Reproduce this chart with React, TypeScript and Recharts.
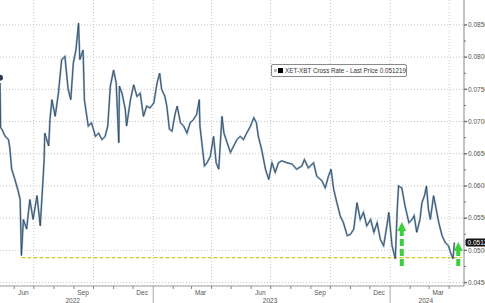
import {
  LineChart,
  Line,
  XAxis,
  YAxis,
  CartesianGrid,
  ReferenceLine,
  ReferenceDot,
} from 'recharts'

const dates = [
  '2022-05-10', '2022-05-11', '2022-05-13', '2022-05-18', '2022-05-23', '2022-05-25', '2022-05-28',
  '2022-06-02', '2022-06-07', '2022-06-10', '2022-06-12', '2022-06-13', '2022-06-15', '2022-06-20',
  '2022-06-25', '2022-06-30', '2022-07-06', '2022-07-11', '2022-07-15', '2022-07-17', '2022-07-18',
  '2022-07-24', '2022-07-26', '2022-07-29', '2022-08-03', '2022-08-08', '2022-08-13', '2022-08-18',
  '2022-08-23', '2022-08-27', '2022-08-31', '2022-09-04', '2022-09-08', '2022-09-10', '2022-09-15',
  '2022-09-17', '2022-09-20', '2022-09-23', '2022-09-28', '2022-10-04', '2022-10-09', '2022-10-14',
  '2022-10-19', '2022-10-23', '2022-10-27', '2022-11-01', '2022-11-05', '2022-11-09', '2022-11-10',
  '2022-11-14', '2022-11-19', '2022-11-21', '2022-11-27', '2022-12-02', '2022-12-07', '2022-12-12',
  '2022-12-17', '2022-12-22', '2022-12-27', '2023-01-02', '2023-01-07', '2023-01-11', '2023-01-14',
  '2023-01-19', '2023-01-22', '2023-01-26', '2023-01-30', '2023-02-04', '2023-02-07', '2023-02-12',
  '2023-02-17', '2023-02-22', '2023-02-27', '2023-03-04', '2023-03-09', '2023-03-13', '2023-03-14',
  '2023-03-17', '2023-03-21', '2023-03-25', '2023-03-30', '2023-04-04', '2023-04-08', '2023-04-12',
  '2023-04-17', '2023-04-20', '2023-04-25', '2023-04-30', '2023-05-05', '2023-05-10', '2023-05-15',
  '2023-05-20', '2023-05-25', '2023-05-31', '2023-06-05', '2023-06-09', '2023-06-12', '2023-06-17',
  '2023-06-23', '2023-06-28', '2023-07-03', '2023-07-08', '2023-07-13', '2023-07-18', '2023-07-26',
  '2023-08-03', '2023-08-10', '2023-08-18', '2023-08-22', '2023-08-28', '2023-09-05', '2023-09-10',
  '2023-09-18', '2023-09-23', '2023-09-28', '2023-10-02', '2023-10-06', '2023-10-11', '2023-10-16',
  '2023-10-21', '2023-10-27', '2023-11-01', '2023-11-06', '2023-11-11', '2023-11-16', '2023-11-21',
  '2023-11-26', '2023-12-02', '2023-12-07', '2023-12-12', '2023-12-17', '2023-12-22', '2023-12-27',
  '2023-12-30', '2024-01-04', '2024-01-09', '2024-01-12', '2024-01-14', '2024-01-19', '2024-01-24',
  '2024-01-30', '2024-02-04', '2024-02-07', '2024-02-11', '2024-02-16', '2024-02-19', '2024-02-23',
  '2024-02-26', '2024-02-29', '2024-03-03', '2024-03-08', '2024-03-12', '2024-03-16', '2024-03-21',
  '2024-03-26', '2024-03-31', '2024-04-03', '2024-04-07', '2024-04-09',
]

const rates = [
  0.0768, 0.0690, 0.0688, 0.0677, 0.0672, 0.0660, 0.0626,
  0.0610, 0.0592, 0.0579, 0.0492, 0.0510, 0.0548, 0.0533,
  0.0579, 0.0548, 0.0585, 0.0538, 0.0605, 0.0641, 0.0682,
  0.0662, 0.0703, 0.0734, 0.0708, 0.0744, 0.0796, 0.0801,
  0.0750, 0.0734, 0.0791, 0.0811, 0.0853, 0.0796, 0.0811,
  0.0734, 0.0713, 0.0693, 0.0698, 0.0677, 0.0682, 0.0672,
  0.0677, 0.0693, 0.0755, 0.0780, 0.0760, 0.0667, 0.0755,
  0.0744, 0.0719, 0.0693, 0.0734, 0.0757, 0.0739, 0.0744,
  0.0708, 0.0724, 0.0721, 0.0729, 0.0760, 0.0775, 0.0750,
  0.0739, 0.0724, 0.0688, 0.0685, 0.0713, 0.0724, 0.0698,
  0.0693, 0.0682, 0.0698, 0.0703, 0.0711, 0.0734, 0.0693,
  0.0667, 0.0631, 0.0636, 0.0646, 0.0677, 0.0636, 0.0626,
  0.0708, 0.0682, 0.0667, 0.0652, 0.0662, 0.0672, 0.0677,
  0.0672, 0.0682, 0.0693, 0.0706, 0.0698, 0.0677, 0.0657,
  0.0626, 0.0610, 0.0636, 0.0621, 0.0636, 0.0639, 0.0636,
  0.0634, 0.0626, 0.0631, 0.0641, 0.0628, 0.0636, 0.0615,
  0.0608, 0.0597, 0.0615, 0.0626, 0.0595, 0.0574, 0.0554,
  0.0543, 0.0523, 0.0525, 0.0533, 0.0574, 0.0548, 0.0559,
  0.0538, 0.0548, 0.0528, 0.0543, 0.0517, 0.0507, 0.0538,
  0.0559, 0.0507, 0.0487, 0.0564, 0.0600, 0.0597, 0.0569,
  0.0543, 0.0548, 0.0554, 0.0528, 0.0548, 0.0574, 0.0585,
  0.0600, 0.0564, 0.0548, 0.0585, 0.0564, 0.0543, 0.0523,
  0.0512, 0.0507, 0.0497, 0.0487, 0.051219,
]

const yMajor = [0.045, 0.05, 0.055, 0.06, 0.065, 0.07, 0.075, 0.08, 0.085]
const quarterDates = ['2022-07-01', '2022-10-01', '2023-01-01', '2023-04-01', '2023-07-01', '2023-10-01', '2024-01-01', '2024-04-01']
const monthLabelDates = ['2022-06-15', '2022-09-15', '2022-12-15', '2023-03-15', '2023-06-15', '2023-09-15', '2023-12-15', '2024-03-15']
const monthLabels = ['Jun', 'Sep', 'Dec', 'Mar', 'Jun', 'Sep', 'Dec', 'Mar']
const yearLabelDates = ['2022-08-30', '2023-06-30', '2024-02-25']
const yearLabels = ['2022', '2023', '2024']

// support level and the two bounce arrows
const supportLevel = 0.04887
const supportFrom = '2022-06-12'
const supportTo = '2024-04-20'
const arrowDates = ['2024-01-19', '2024-04-15']
const arrowBottoms = [0.04757, 0.04757]
const arrowBases = [0.05299, 0.04989]

const FONT = '"Liberation Sans", Arial, sans-serif'
const domain: [number, number] = [Date.UTC(2022, 4, 10), Date.UTC(2024, 3, 23, 20)]
const data = dates.map((d, i) => ({ t: Date.parse(d), v: rates[i] }))
const lastPrice = rates[rates.length - 1]

const monthTicks: number[] = []
for (let y = 2022, m = 5; y < 2024 || m <= 3; m++) {
  if (m > 11) { m = 0; y++ }
  monthTicks.push(Date.UTC(y, m, 1))
}
const yTicks: number[] = []
yMajor.forEach((v, i) => {
  yTicks.push(v)
  if (i < yMajor.length - 1) yTicks.push(v + 0.0025)
})

// eslint-disable-next-line @typescript-eslint/no-explicit-any
const MonthTick = ({ x, y, payload }: any) => {
  const jan = new Date(payload.value).getUTCMonth() === 0
  return <line x1={x} x2={x} y1={y} y2={y + (jan ? 17 : 3)} stroke={jan ? '#aaa' : '#888'} strokeWidth={1} />
}

// eslint-disable-next-line @typescript-eslint/no-explicit-any
const TextTick = ({ x, y, index, labels, dy }: any) => (
  <text x={x} y={y + dy} textAnchor="middle" fontSize={6.5} fontFamily={FONT} fill="#555">
    {labels[index] ?? ''}
  </text>
)

// eslint-disable-next-line @typescript-eslint/no-explicit-any
const PriceTick = ({ x, y, payload }: any) => {
  const major = Math.round(payload.value * 10000) % 50 === 0
  return (
    <g>
      <line x1={x} x2={x + (major ? 3 : 2)} y1={y} y2={y} stroke="#777" strokeWidth={major ? 1.5 : 1} />
      {major && (
        <text x={x + 4} y={y + 2.3} fontSize={6.5} fontFamily={FONT} fill="#555">
          {payload.value.toFixed(4)}
        </text>
      )}
    </g>
  )
}

// eslint-disable-next-line @typescript-eslint/no-explicit-any
const PriceTag = ({ viewBox }: any) => {
  const x = viewBox.x + viewBox.width + 1.5
  const y = viewBox.y
  return (
    <g>
      <rect x={x} y={y - 4} width={30} height={8} rx={2} fill="#111" />
      <text x={x + 2} y={y + 2.3} fontSize={6.5} fontFamily={FONT} fill="#fff">
        {lastPrice.toFixed(4)}
      </text>
    </g>
  )
}

// eslint-disable-next-line @typescript-eslint/no-explicit-any
const ArrowHead = ({ cx, cy }: any) => (
  <polygon points={`${cx - 4.5},${cy} ${cx + 4.5},${cy} ${cx},${cy - 9}`} fill="#3ccf3c" />
)

export default function App() {
  return (
    <div style={{ width: 485, height: 303, overflow: 'hidden', position: 'relative', background: '#fff' }}>
      <style>{'body{margin:0}'}</style>
      <LineChart width={505} height={303} data={data} margin={{ top: 0, right: 0, bottom: 0, left: 0 }}>
        <CartesianGrid
          xAxisId="main"
          stroke="#c4c4c4"
          strokeDasharray="1 2"
          horizontalValues={yMajor}
          verticalValues={quarterDates.map((d) => Date.parse(d))}
        />
        <XAxis
          xAxisId="main"
          dataKey="t"
          type="number"
          domain={domain}
          allowDataOverflow
          ticks={monthTicks}
          interval={0}
          height={4}
          axisLine={{ stroke: '#999' }}
          tickLine={false}
          tickSize={0}
          tickMargin={0}
          tick={<MonthTick />}
        />
        <XAxis
          xAxisId="mon"
          dataKey="t"
          type="number"
          domain={domain}
          allowDataOverflow
          ticks={monthLabelDates.map((d) => Date.parse(d))}
          interval={0}
          height={7}
          axisLine={false}
          tickLine={false}
          tickSize={0}
          tickMargin={0}
          tick={<TextTick labels={monthLabels} dy={4.5} />}
        />
        <XAxis
          xAxisId="yr"
          dataKey="t"
          type="number"
          domain={domain}
          allowDataOverflow
          ticks={yearLabelDates.map((d) => Date.parse(d))}
          interval={0}
          height={6}
          axisLine={false}
          tickLine={false}
          tickSize={0}
          tickMargin={0}
          tick={<TextTick labels={yearLabels} dy={5.5} />}
        />
        <YAxis
          orientation="right"
          domain={[0.04447, 0.08887]}
          allowDataOverflow
          ticks={yTicks}
          interval={0}
          width={41}
          axisLine={{ stroke: '#888' }}
          tickLine={false}
          tickSize={0}
          tickMargin={0}
          tick={<PriceTick />}
        />
        <ReferenceLine
          xAxisId="main"
          segment={[
            { x: Date.parse(supportFrom), y: supportLevel },
            { x: Date.parse(supportTo), y: supportLevel },
          ]}
          stroke="#d6c832"
          strokeWidth={1.3}
          strokeDasharray="4 2"
        />
        <Line
          xAxisId="main"
          dataKey="v"
          stroke="#8fb0cb"
          strokeWidth={2}
          strokeLinejoin="miter"
          dot={false}
          isAnimationActive={false}
        />
        <Line
          xAxisId="main"
          dataKey="v"
          stroke="#2c3d4e"
          strokeWidth={0.8}
          strokeLinejoin="miter"
          dot={false}
          isAnimationActive={false}
        />
        {arrowDates.map((d, i) => (
          <ReferenceLine
            key={'s' + d}
            xAxisId="main"
            segment={[
              { x: Date.parse(d), y: arrowBottoms[i] },
              { x: Date.parse(d), y: arrowBases[i] },
            ]}
            stroke="#3ccf3c"
            strokeWidth={4}
            strokeDasharray="7 3"
          />
        ))}
        {arrowDates.map((d, i) => (
          <ReferenceDot key={'h' + d} xAxisId="main" x={Date.parse(d)} y={arrowBases[i]} shape={<ArrowHead />} />
        ))}
        <ReferenceLine xAxisId="main" y={lastPrice} stroke="none" label={<PriceTag />} />
      </LineChart>
      <div
        style={{
          position: 'absolute',
          left: 271,
          top: 64,
          width: 134,
          height: 11,
          border: '1px solid #8a8a8a',
          borderRadius: 2,
          background: '#fff',
          display: 'flex',
          alignItems: 'center',
          fontFamily: FONT,
          fontSize: 6.3,
          color: '#333',
          whiteSpace: 'nowrap',
        }}
      >
        <span style={{ width: 3, height: 3, background: '#bbb', marginLeft: 2, marginRight: 1 }} />
        <span style={{ width: 5, height: 5, background: '#000', marginRight: 2 }} />
        <span>XET-XBT Cross Rate - Last Price {lastPrice.toFixed(6)}</span>
      </div>
    </div>
  )
}
